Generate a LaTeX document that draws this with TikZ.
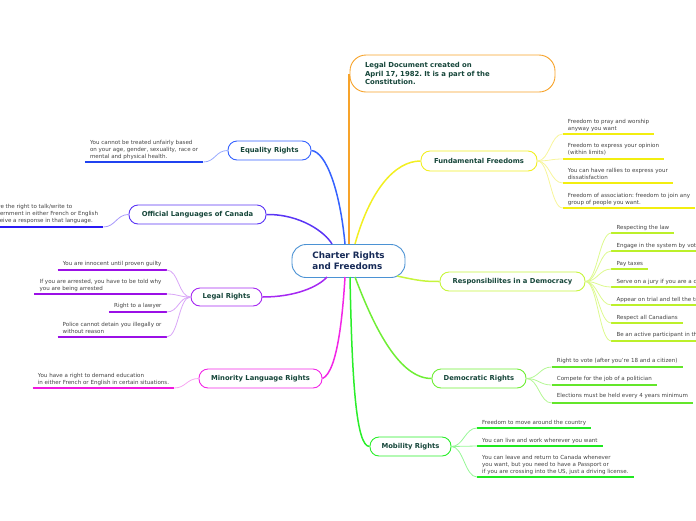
\documentclass[tikz,border=0pt]{standalone}
\usepackage{fontspec}
\setmainfont{DejaVu Sans}
\usetikzlibrary{calc}
\definecolor{cblue}{HTML}{4B92D4}
\definecolor{ctext}{HTML}{162A57}
\definecolor{topictext}{HTML}{16463A}
\definecolor{leaftext}{HTML}{444444}
\definecolor{orangec}{HTML}{F7A32A}
\definecolor{eqc}{HTML}{3562FF}
\definecolor{eqlight}{HTML}{98AAFF}
\definecolor{equnder}{HTML}{2043F0}
\definecolor{offc}{HTML}{5A35F5}
\definecolor{offlight}{HTML}{A797FB}
\definecolor{offunder}{HTML}{2A1AF5}
\definecolor{legc}{HTML}{A528F2}
\definecolor{leglight}{HTML}{D9A6F7}
\definecolor{legunder}{HTML}{9B10E6}
\definecolor{minc}{HTML}{F226E6}
\definecolor{minlight}{HTML}{F7A6F2}
\definecolor{minunder}{HTML}{F018DF}
\definecolor{fundc}{HTML}{F2EF22}
\definecolor{fundlight}{HTML}{F7F59A}
\definecolor{fundunder}{HTML}{F2EE10}
\definecolor{respc}{HTML}{C6F53C}
\definecolor{resplight}{HTML}{DDF98E}
\definecolor{respunder}{HTML}{BCF02A}
\definecolor{demc}{HTML}{6FEE35}
\definecolor{demlight}{HTML}{B4F794}
\definecolor{demunder}{HTML}{63E62A}
\definecolor{mobc}{HTML}{2AEE2A}
\definecolor{moblight}{HTML}{96F796}
\definecolor{mobunder}{HTML}{20E820}
\frenchspacing
\begin{document}
\begin{tikzpicture}[x=1pt,y=-1pt,
  topic/.style={draw, line width=0.9pt, rounded corners=9pt, fill=white,
    font=\fontsize{6.8}{8}\selectfont\bfseries, text=topictext, inner sep=0pt},
  leaf/.style={font=\fontsize{5.55}{6.8}\selectfont, text=leaftext, align=left, inner sep=0pt},
  mainline/.style={line width=1.5pt},
  twig/.style={line width=0.8pt},
  under/.style={line width=2pt},
]
\useasboundingbox (0,0) rectangle (696,520);

% ---------- nodes ----------
\node[draw=cblue, line width=0.9pt, rounded corners=14pt, fill=white,
  minimum width=113pt, minimum height=33pt, inner sep=0pt,
  font=\fontsize{8.8}{11}\selectfont\bfseries, text=ctext, align=left]
  (center) at (348.5,261) {Charter Rights\\and Freedoms};

\node[draw=orangec, line width=0.9pt, rounded corners=16pt, fill=white,
  minimum height=37pt, text width=175pt, inner xsep=15pt, inner ysep=0pt,
  align=left, font=\fontsize{6.9}{8.5}\selectfont\bfseries, text=topictext]
  (doc) at (452.5,73.5) {Legal Document created on\\April 17, 1982. It is a part of the\\Constitution.};

\node[topic, draw=eqc,   minimum width=83pt,  minimum height=19pt] (eq)   at (269.5,150.5) {Equality Rights};
\node[topic, draw=offc,  minimum width=137pt, minimum height=19pt] (off)  at (197.5,214.5) {Official Languages of Canada};
\node[topic, draw=legc,  minimum width=71pt,  minimum height=18pt] (leg)  at (226.5,297) {Legal Rights};
\node[topic, draw=minc,  minimum width=123pt, minimum height=19pt] (min)  at (260.5,378.5) {Minority Language Rights};
\node[topic, draw=fundc, minimum width=116pt, minimum height=20pt] (fund) at (479,161) {Fundamental Freedoms};
\node[topic, draw=respc, minimum width=145pt, minimum height=19pt] (resp) at (512.5,281.5) {Responsibilites in a Democracy};
\node[topic, draw=demc,  minimum width=94pt,  minimum height=19pt] (dem)  at (479,378.5) {Democratic Rights};
\node[topic, draw=mobc,  minimum width=81pt,  minimum height=19pt] (mob)  at (410.5,446.5) {Mobility Rights};

% ---------- main connectors ----------
\coordinate (s-doc) at (349,244);
\coordinate (s-eq) at (345,244);
\coordinate (s-off) at (332,244);
\coordinate (s-fund) at (355,244);
\coordinate (s-leg) at (327,277);
\coordinate (s-min) at (345,277);
\coordinate (s-mob) at (350,277);
\coordinate (s-dem) at (355,277);
\coordinate (s-resp) at (397,276);

\draw[mainline, draw=orangec] (s-doc) -- (doc.west -| s-doc);
\draw[mainline, draw=eqc] (eq.east) .. controls (326,152) and (340,190) .. (s-eq);
\draw[mainline, draw=offc] (off.east) .. controls (300,214) and (325,232) .. (s-off);
\draw[mainline, draw=fundc] (s-fund) .. controls (370,190) and (395,161) .. (fund.west);
\draw[mainline, draw=legc] (leg.east) .. controls (295,297) and (318,287) .. (s-leg);
\draw[mainline, draw=minc] (min.east) .. controls (338,372) and (343,310) .. (s-min);
\draw[mainline, draw=mobc] (s-mob) .. controls (352,380) and (356,446.5) .. (mob.west);
\draw[mainline, draw=demc] (s-dem) .. controls (375,330) and (400,378.5) .. (dem.west);
\draw[mainline, draw=respc] (s-resp) .. controls (420,281) and (425,281.5) .. (resp.west);

% ---------- Equality leaf ----------
\node[leaf, anchor=north east] (eq1) at (198.3,140.5) {You cannot be treated unfairly based\\on your age, gender, sexuality, race or\\mental and physical health.};
\coordinate (eq1a) at (203.3,162);
\draw[under, draw=equnder] ($(eq1.west |- eq1a)+(-5,0)$) -- (eq1a);
\draw[twig, draw=eqlight] (eq1a) .. controls +(12,0) and +(-12,0) .. (eq.west);

% ---------- Official languages leaf ----------
\node[leaf, anchor=north east] (of1) at (98.3,204.5) {You have the right to talk/write to\\the government in either French or English\\and receive a response in that language.};
\coordinate (of1a) at (103.3,227);
\draw[under, draw=offunder] ($(of1.west |- of1a)+(-5,0)$) -- (of1a);
\draw[twig, draw=offlight] (of1a) .. controls +(12,0) and +(-12,0) .. (off.west);

% ---------- Legal leaves ----------
\node[leaf, anchor=north east] (l1) at (161.7,261.1) {You are innocent until proven guilty};
\node[leaf, anchor=north east] (l2) at (161.7,278.8) {If you are arrested, you have to be told why\\you are being arrested};
\node[leaf, anchor=north east] (l3) at (161.7,303.5) {Right to a lawyer};
\node[leaf, anchor=north east] (l4) at (161.7,321.8) {Police cannot detain you illegally or\\without reason};
\coordinate (l1a) at (166.7,270);
\coordinate (l2a) at (166.7,294);
\coordinate (l3a) at (166.7,312);
\coordinate (l4a) at (166.7,337);
\foreach \n in {l1,l2,l3,l4}{
  \draw[under, draw=legunder] ($(\n.west |- \n a)+(-5,0)$) -- (\n a);
  \draw[twig, draw=leglight] (\n a) .. controls +(12,0) and +(-12,0) .. (leg.west);
}

% ---------- Minority leaf ----------
\node[leaf, anchor=north east] (mi1) at (169.3,372.8) {You have a right to demand education\\in either French or English in certain situations.};
\coordinate (mi1a) at (174,388);
\draw[under, draw=minunder] ($(mi1.west |- mi1a)+(-5,0)$) -- (mi1a);
\draw[twig, draw=minlight] (mi1a) .. controls +(12,0) and +(-12,0) .. (min.west);

% ---------- Fundamental leaves ----------
\node[leaf, anchor=north west] (f1) at (567.7,119.5) {Freedom to pray and worship\\anyway you want};
\node[leaf, anchor=north west] (f2) at (567.7,143.5) {Freedom to express your opinion\\(within limits)};
\node[leaf, anchor=north west] (f3) at (567.7,168.1) {You can have rallies to express your\\dissatisfaction};
\node[leaf, anchor=north west] (f4) at (567.7,192.8) {Freedom of association: freedom to join any\\group of people you want.};
\coordinate (f1a) at (562.7,134);
\coordinate (f2a) at (562.7,159);
\coordinate (f3a) at (562.7,183);
\coordinate (f4a) at (562.7,208);
\foreach \n in {f1,f2,f3,f4}{
  \draw[under, draw=fundunder] (\n a) -- ($(\n.east |- \n a)+(5,0)$);
  \draw[twig, draw=fundlight] (fund.east) .. controls +(12,0) and +(-12,0) .. (\n a);
}

% ---------- Responsibilities leaves ----------
\node[leaf, anchor=north west] (r1) at (616.3,225.1) {Respecting the law};
\node[leaf, anchor=north west] (r2) at (616.3,243.1) {Engage in the system by voting};
\node[leaf, anchor=north west] (r3) at (616.3,261.1) {Pay taxes};
\node[leaf, anchor=north west] (r4) at (616.3,279.1) {Serve on a jury if you are a citizen};
\node[leaf, anchor=north west] (r5) at (616.3,297.1) {Appear on trial and tell the truth};
\node[leaf, anchor=north west] (r6) at (616.3,314.8) {Respect all Canadians};
\node[leaf, anchor=north west] (r7) at (616.3,332.1) {Be an active participant in the community};
\coordinate (r1a) at (611.3,233);
\coordinate (r2a) at (611.3,251);
\coordinate (r3a) at (611.3,269);
\coordinate (r4a) at (611.3,287);
\coordinate (r5a) at (611.3,305);
\coordinate (r6a) at (611.3,323);
\coordinate (r7a) at (611.3,341);
\foreach \n in {r1,r2,r3,r4,r5,r6,r7}{
  \draw[under, draw=respunder] (\n a) -- ($(\n.east |- \n a)+(5,0)$);
  \draw[twig, draw=resplight] (resp.east) .. controls +(12,0) and +(-12,0) .. (\n a);
}

% ---------- Democratic leaves ----------
\node[leaf, anchor=north west] (d1) at (556.7,357.8) {Right to vote (after you're 18 and a citizen)};
\node[leaf, anchor=north west] (d2) at (556.7,375.8) {Compete for the job of a politician};
\node[leaf, anchor=north west] (d3) at (556.7,393.5) {Elections must be held every 4 years minimum};
\coordinate (d1a) at (551.7,367);
\coordinate (d2a) at (551.7,385);
\coordinate (d3a) at (551.7,403);
\foreach \n in {d1,d2,d3}{
  \draw[under, draw=demunder] (\n a) -- ($(\n.east |- \n a)+(5,0)$);
  \draw[twig, draw=demlight] (dem.east) .. controls +(12,0) and +(-12,0) .. (\n a);
}

% ---------- Mobility leaves ----------
\node[leaf, anchor=north west] (m1) at (482,420.1) {Freedom to move around the country};
\node[leaf, anchor=north west] (m2) at (482,437.8) {You can live and work wherever you want};
\node[leaf, anchor=north west] (m3) at (482,455.5) {You can leave and return to Canada whenever\\you want, but you need to have a Passport or\\if you are crossing into the US, just a driving license.};
\coordinate (m1a) at (477,428);
\coordinate (m2a) at (477,446);
\coordinate (m3a) at (477,477);
\foreach \n in {m1,m2,m3}{
  \draw[under, draw=mobunder] (\n a) -- ($(\n.east |- \n a)+(5,0)$);
  \draw[twig, draw=moblight] (mob.east) .. controls +(12,0) and +(-12,0) .. (\n a);
}
\end{tikzpicture}
\end{document}
